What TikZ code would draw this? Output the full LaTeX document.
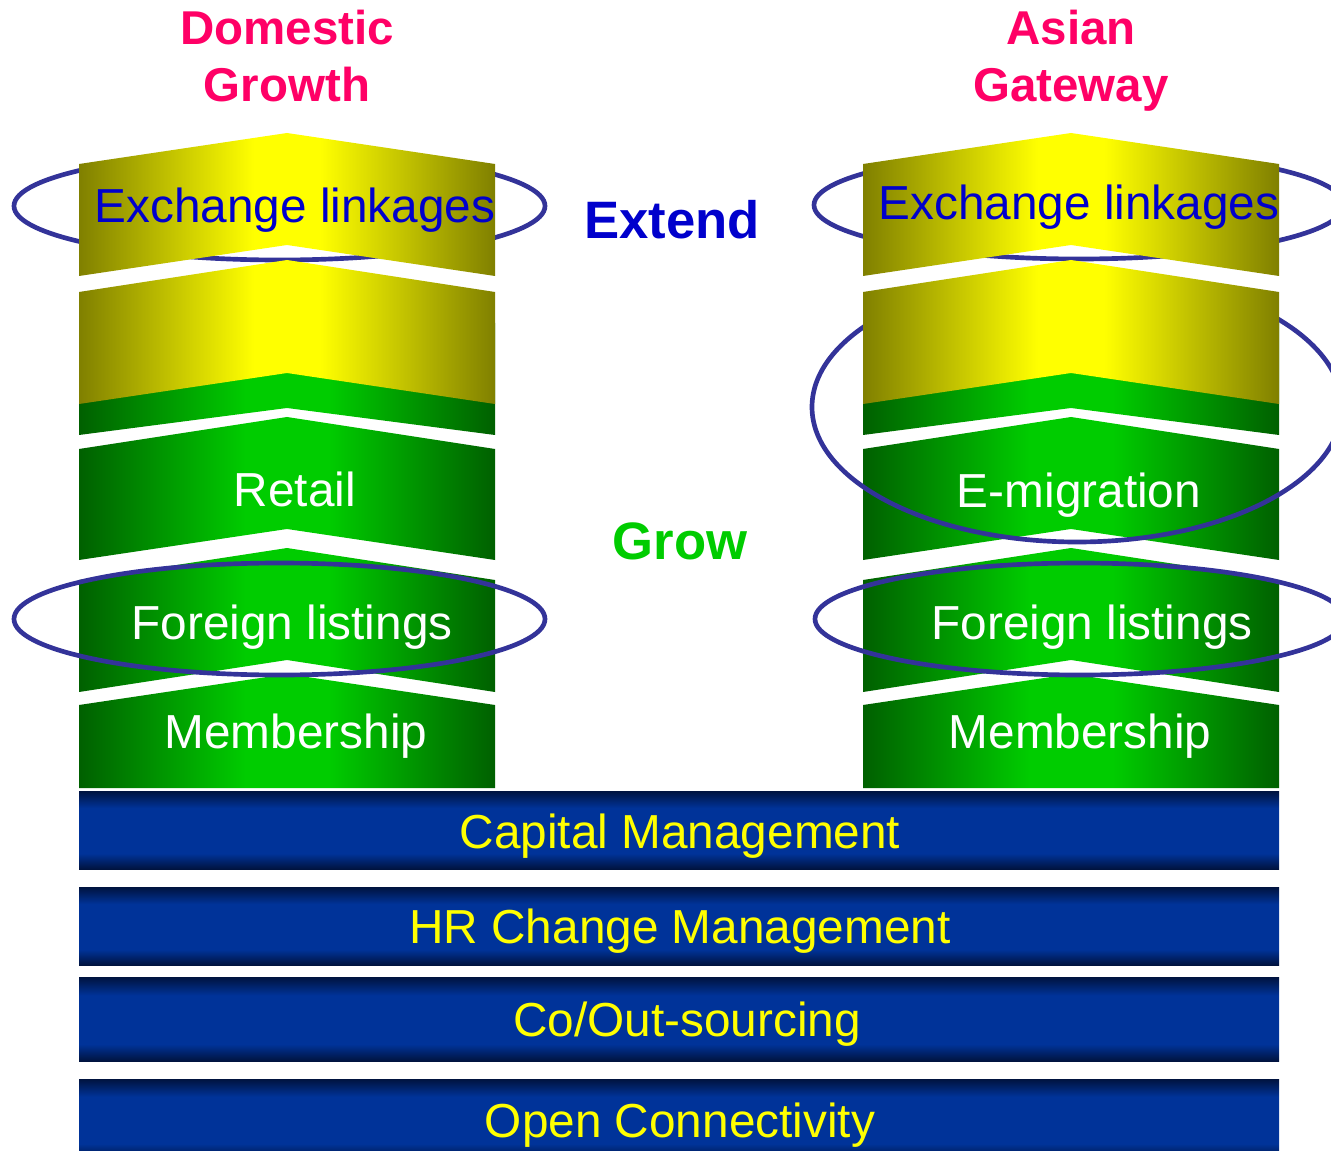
\documentclass[tikz,border=0pt]{standalone}
\usepackage{fontspec}
\setmainfont{Liberation Sans}

% palette
\definecolor{yedge}{HTML}{808000}
\definecolor{ymid}{HTML}{FFFF00}
\definecolor{gedge}{HTML}{006000}
\definecolor{gmid}{HTML}{00CC00}
\definecolor{bdark}{HTML}{00133F}
\definecolor{bmid}{HTML}{003399}
\definecolor{ringcol}{HTML}{333399}
\definecolor{titlecol}{HTML}{FF0066}
\definecolor{extcol}{HTML}{0000CC}
\definecolor{growcol}{HTML}{00CC00}

% left-to-right shadings for the pillar blocks, top-to-bottom for the base bars
\pgfdeclarehorizontalshading{yelshade}{100bp}{color(0bp)=(yedge); color(25bp)=(yedge); color(46bp)=(ymid); color(54bp)=(ymid); color(75bp)=(yedge); color(100bp)=(yedge)}
\pgfdeclarehorizontalshading{grnshade}{100bp}{color(0bp)=(gedge); color(25bp)=(gedge); color(45bp)=(gmid); color(55bp)=(gmid); color(75bp)=(gedge); color(100bp)=(gedge)}
\pgfdeclareverticalshading{barshade}{100bp}{color(0bp)=(bdark); color(25bp)=(bdark); color(35bp)=(bmid); color(64bp)=(bmid); color(75bp)=(bdark); color(100bp)=(bdark)}

% chevron block: #1 style, #2 left x, #3 top side y, #4 top peak y, #5 bottom side y, #6 bottom notch y
\newcommand{\drawchev}[6]{%
  \path[#1] (#2,#3) -- ({#2+208},#4) -- ({#2+416},#3) -- ({#2+416},#5)
    -- ({#2+208},#6) -- (#2,#5) -- cycle;}

\tikzset{
  yblock/.style={shading=yelshade},
  gblock/.style={shading=grnshade},
  basebar/.style={shading=barshade},
  ring/.style={draw=ringcol, line width=3.5pt},
  intext/.style={anchor=base, inner sep=0pt, font=\fontsize{35.8}{40}\selectfont},
  whitetext/.style={intext, text=white},
  bartext/.style={intext, text=ymid},
  linktext/.style={intext, text=extcol},
  headtext/.style={anchor=base, inner sep=0pt, font=\bfseries\fontsize{35.6}{40}\selectfont, text=titlecol},
  phasetext/.style={anchor=base, inner sep=0pt, font=\bfseries\fontsize{39.5}{44}\selectfont}
}

\begin{document}
\begin{tikzpicture}[x=0.75pt, y=-0.75pt]
\useasboundingbox (0,0) rectangle (1331,1151);
\clip (0,0) rectangle (1331,1151);

% foundation bars
\path[basebar] (79,791) rectangle (1279,869);
\path[basebar] (79,887) rectangle (1279,965);
\path[basebar] (79,977) rectangle (1279,1061);
\path[basebar] (79,1079) rectangle (1279,1160);

% green blocks, both pillars
\foreach \xl in {79,863}{
  \drawchev{gblock}{\xl}{323}{292}{435}{408}
  \drawchev{gblock}{\xl}{449}{417}{560}{529}
  \drawchev{gblock}{\xl}{580}{548}{692}{660}
  \drawchev{gblock}{\xl}{705}{674}{788}{788}
}

% highlight rings
\draw[ring] (279.5,206) ellipse [x radius=265.5, y radius=54];
\draw[ring] (279.5,619) ellipse [x radius=265.5, y radius=56];
\draw[ring] (1079,205) ellipse [x radius=265, y radius=54];
\draw[ring] (1077,407) ellipse [x radius=265, y radius=135];
\draw[ring] (1080,619) ellipse [x radius=265, y radius=56];

% yellow blocks, both pillars
\foreach \xl in {79,863}{
  \drawchev{yblock}{\xl}{164}{133}{276}{245}
  \drawchev{yblock}{\xl}{292}{260}{404}{373}
}

% pillar headings
\node[headtext] (domA) at (287,45) {Domestic};
\node[headtext] (domB) at (287,102) {Growth};
\node[headtext] (asiA) at (1071,45) {Asian};
\node[headtext] (asiB) at (1071,102) {Gateway};

% phase labels
\node[phasetext, text=extcol] (extend) at (672,239) {Extend};
\node[phasetext, text=growcol] (grow) at (680,559) {Grow};

% left pillar labels
\node[linktext] (lnkL) at (295,223) {Exchange linkages};
\node[whitetext] (retail) at (295,507) {Retail};
\node[whitetext] (forL) at (292,639) {Foreign listings};
\node[whitetext] (memL) at (296,748) {Membership};

% right pillar labels
\node[linktext] (lnkR) at (1079,220) {Exchange linkages};
\node[whitetext] (emig) at (1079,508) {E-migration};
\node[whitetext] (forR) at (1092,639) {Foreign listings};
\node[whitetext] (memR) at (1080,748) {Membership};

% foundation labels
\node[bartext] (capm) at (680,848) {Capital Management};
\node[bartext] (hrcm) at (680,943) {HR Change Management};
\node[bartext] (cout) at (687,1036) {Co/Out-sourcing};
\node[bartext] (opcn) at (680,1137) {Open Connectivity};
\end{tikzpicture}
\end{document}
